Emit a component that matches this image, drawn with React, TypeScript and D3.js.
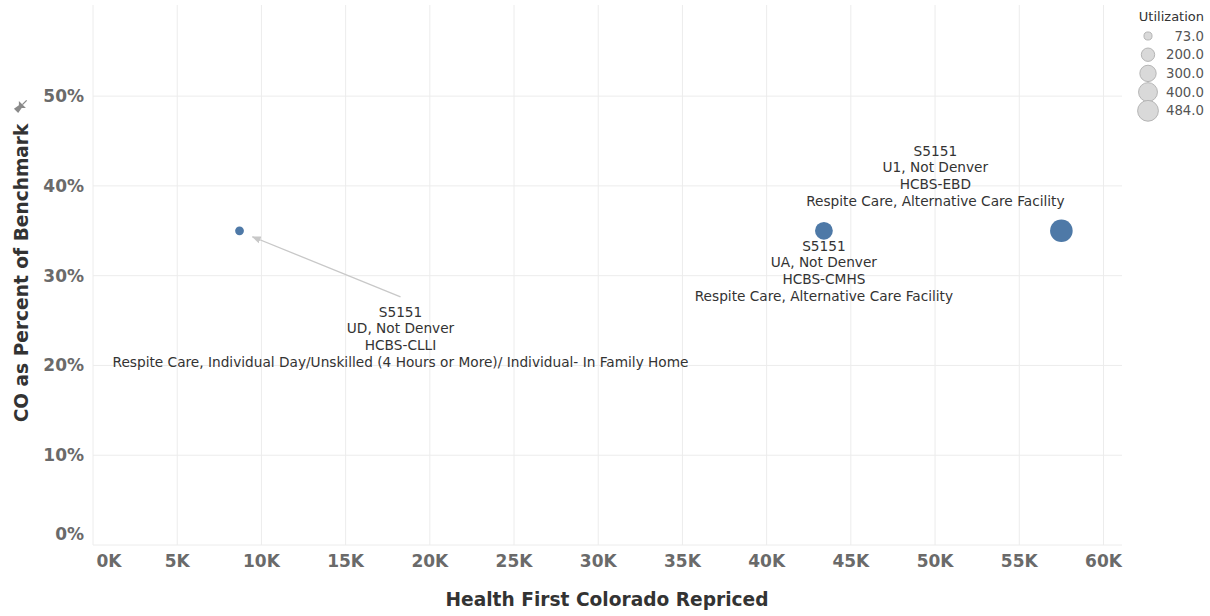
import React from "react";
import * as d3 from "d3";

const xTicks = [0, 5000, 10000, 15000, 20000, 25000, 30000, 35000, 40000, 45000, 50000, 55000, 60000];
const yTicks = [0, 0.1, 0.2, 0.3, 0.4, 0.5];
const pointX = [8700, 43400, 57500];
const pointY = [0.35, 0.35, 0.35];
const utilization = [73, 300, 484];
const codes = ["S5151", "S5151", "S5151"];
const modifiers = ["UD, Not Denver", "UA, Not Denver", "U1, Not Denver"];
const programs = ["HCBS-CLLI", "HCBS-CMHS", "HCBS-EBD"];
const descriptions = [
  "Respite Care, Individual Day/Unskilled (4 Hours or More)/ Individual- In Family Home",
  "Respite Care, Alternative Care Facility",
  "Respite Care, Alternative Care Facility",
];
const legendValues = [73, 200, 300, 400, 484];
const legendLabels = ["73.0", "200.0", "300.0", "400.0", "484.0"];

const W = 1210;
const H = 616;
const left = 93, right = 1122, top = 5, bottom = 545;
const FONT = "'DejaVu Sans', Verdana, sans-serif";

export default function App() {
  const x = d3.scaleLinear().domain([0, 61100]).range([left, right]);
  const y = d3.scaleLinear().domain([0, 0.6015]).range([bottom, top]);
  const r = d3.scaleSqrt().domain([0, 484]).range([0, 11.3]);
  const fmtX = (v: number) => `${d3.format(".0f")(v / 1000)}K`;
  const fmtY = d3.format(".0%");

  const annOffsets = [
    { dx: 161, dy: 86, arrow: true },
    { dx: 0, dy: 20, arrow: false },
    { dx: -126, dy: -75, arrow: false },
  ];
  const lineH = 16.7;

  return (
    <svg width={W} height={H} style={{ position: "absolute", left: 0, top: 0, background: "#fff" }}>
      <defs>
        <marker id="arr" viewBox="0 0 10 10" refX="9" refY="5" markerWidth="7" markerHeight="7" orient="auto-start-reverse">
          <path d="M0,1 L10,5 L0,9 z" fill="#c8c8c8" />
        </marker>
      </defs>
      {xTicks.map((t) => (
        <line key={"gx" + t} x1={x(t)} x2={x(t)} y1={top} y2={bottom} stroke="#ececec" strokeWidth={1} />
      ))}
      {yTicks.map((t) => (
        <line key={"gy" + t} x1={left} x2={right} y1={y(t)} y2={y(t)} stroke="#ececec" strokeWidth={1} />
      ))}
      {xTicks.map((t, i) => (
        <text key={"tx" + t} x={i === 0 ? x(t) + 16 : x(t)} y={567} textAnchor="middle" fontFamily={FONT}
          fontWeight="bold" fontSize={17} fill="#6a6a6a">{fmtX(t)}</text>
      ))}
      {yTicks.map((t) => (
        <text key={"ty" + t} x={84} y={y(t) + (t === 0 ? -5 : 6)} textAnchor="end" fontFamily={FONT}
          fontWeight="bold" fontSize={17} fill="#6a6a6a">{fmtY(t)}</text>
      ))}
      <text x={607} y={606} textAnchor="middle" fontFamily={FONT} fontWeight="bold" fontSize={18.6} fill="#333">
        Health First Colorado Repriced
      </text>
      <text transform={`translate(28,${273}) rotate(-90)`} textAnchor="middle" fontFamily={FONT} fontWeight="bold"
        fontSize={18.6} fill="#333">CO as Percent of Benchmark</text>
      <g transform="translate(21,106) rotate(-135)" fill="#8a8a8a">
        <path d="M-3,-7 L3,-7 L2,-1 L5,2 L-5,2 L-2,-1 Z" />
        <line x1={0} y1={2} x2={0} y2={8} stroke="#8a8a8a" strokeWidth={1.3} />
      </g>
      {pointX.map((px, i) =>
        annOffsets[i].arrow ? (
          <line key={"ar" + i} x1={x(px) + annOffsets[i].dx} y1={y(pointY[i]) + annOffsets[i].dy - 20}
            x2={x(px) + 13} y2={y(pointY[i]) + 6} stroke="#c8c8c8" strokeWidth={1.3} markerEnd="url(#arr)" />
        ) : null
      )}
      {pointX.map((px, i) => (
        <circle key={"c" + i} cx={x(px)} cy={y(pointY[i])} r={r(utilization[i])} fill="#4e79a7" />
      ))}
      {pointX.map((px, i) => {
        const cx = x(px) + annOffsets[i].dx;
        const cy = y(pointY[i]) + annOffsets[i].dy;
        const lines = [codes[i], modifiers[i], programs[i], descriptions[i]];
        return (
          <g key={"l" + i}>
            {lines.map((s, k) => (
              <text key={k} x={cx} y={cy + k * lineH} textAnchor="middle" fontFamily={FONT} fontSize={13.7} fill="#333">
                {s}
              </text>
            ))}
          </g>
        );
      })}
      <text x={1204} y={21} textAnchor="end" fontFamily={FONT} fontSize={13} fill="#333">Utilization</text>
      {legendValues.map((v, i) => (
        <g key={"lg" + i}>
          <circle cx={1148} cy={36 + i * 18.7} r={r(v) * 0.92} fill="#d9d9d9" stroke="#b5b5b5" strokeWidth={1} />
          <text x={1204} y={40.5 + i * 18.7} textAnchor="end" fontFamily={FONT} fontSize={13.3} fill="#555">
            {legendLabels[i]}
          </text>
        </g>
      ))}
    </svg>
  );
}
